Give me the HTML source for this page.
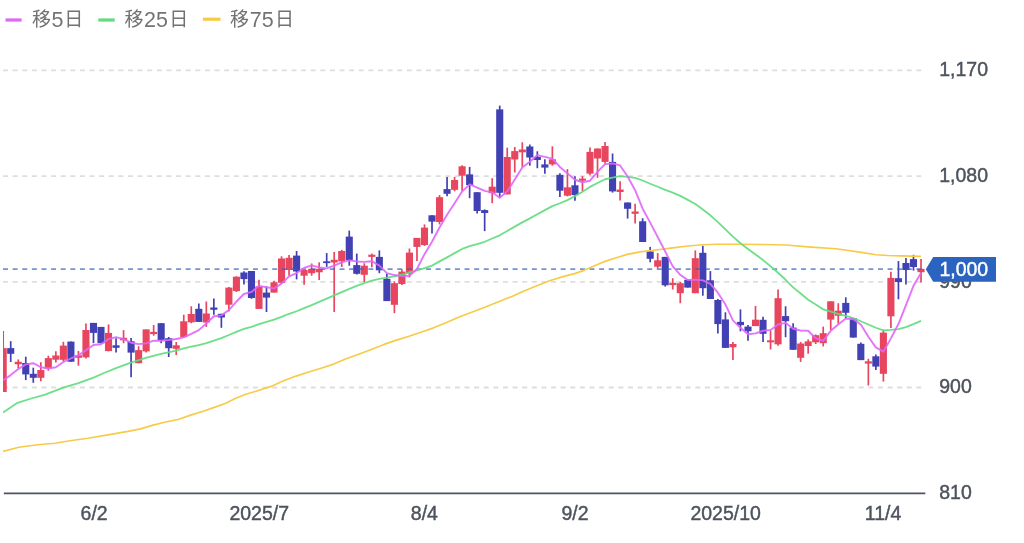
<!DOCTYPE html>
<html lang="ja">
<head>
<meta charset="utf-8">
<title>チャート</title>
<style>
html,body{margin:0;padding:0;background:#fff;}
body{width:1024px;height:543px;overflow:hidden;position:relative;font-family:"Liberation Sans","Noto Sans CJK JP",sans-serif;}
svg{position:absolute;left:0;top:0;display:block;}
text{font-family:"Liberation Sans","Noto Sans CJK JP",sans-serif;}
.ax{font-size:21px;fill:#4d535d;stroke:#4d535d;stroke-width:0.45;}
.lg{font-size:19px;fill:#737373;}
.grid{stroke:#dedede;stroke-width:1.8;stroke-dasharray:5 4.615;fill:none;}
.ma{fill:none;stroke-linejoin:round;stroke-linecap:butt;}
</style>
</head>
<body>
<svg width="1024" height="543" viewBox="0 0 1024 543">
<defs><clipPath id="plot"><rect x="3" y="40" width="925" height="460"/></clipPath></defs>

<g>
<line x1="5.5" y1="20" x2="21.6" y2="20" stroke="#df66fb" stroke-width="3.2"/>
<text class="lg" x="31.9" y="26.1">移<tspan x="51.5" y="26.8" font-size="21.5">5</tspan><tspan x="64.15" y="26.1">日</tspan></text>
<line x1="98.3" y1="20" x2="114.7" y2="20" stroke="#62dc7e" stroke-width="3.2"/>
<text class="lg" x="124.6" y="26.1">移<tspan x="144" y="26.8" font-size="21.5">25</tspan><tspan x="169.35" y="26.1">日</tspan></text>
<line x1="202.9" y1="19.2" x2="220.6" y2="19.2" stroke="#f7cb47" stroke-width="3.2"/>
<text class="lg" x="229.9" y="26.1">移<tspan x="249.7" y="26.8" font-size="21.5">75</tspan><tspan x="274.9" y="26.1">日</tspan></text>
</g>
<g>
<line class="grid" x1="3" y1="70.4" x2="921.3" y2="70.4"/>
<line class="grid" x1="3" y1="176.1" x2="921.3" y2="176.1"/>
<line class="grid" x1="3" y1="281.9" x2="921.3" y2="281.9"/>
<line class="grid" x1="3" y1="387.5" x2="921.3" y2="387.5"/>
</g>
<g>
<text class="ax" transform="translate(939.2,76.2) scale(0.929,1)">1,170</text>
<text class="ax" transform="translate(939.2,181.9) scale(0.929,1)">1,080</text>
<text class="ax" transform="translate(939.2,287.7) scale(0.929,1)">990</text>
<text class="ax" transform="translate(939.2,393.3) scale(0.929,1)">900</text>
<text class="ax" transform="translate(939.2,499) scale(0.929,1)">810</text>
</g>
<g clip-path="url(#plot)">
<line x1="3.2" y1="331" x2="3.2" y2="392" stroke="#e8465f" stroke-width="1.7"/>
<rect x="-0.35" y="348.1" width="7.1" height="43.9" fill="#e8465f"/>
<line x1="10.72" y1="341.2" x2="10.72" y2="362" stroke="#4141b3" stroke-width="1.7"/>
<rect x="7.17" y="348.1" width="7.1" height="5.7" fill="#4141b3"/>
<line x1="18.25" y1="359.4" x2="18.25" y2="368.2" stroke="#e8465f" stroke-width="1.7"/>
<rect x="14.7" y="361.8" width="7.1" height="2.5" fill="#e8465f"/>
<line x1="25.77" y1="356.7" x2="25.77" y2="380.1" stroke="#4141b3" stroke-width="1.7"/>
<rect x="22.22" y="363" width="7.1" height="11.4" fill="#4141b3"/>
<line x1="33.29" y1="367.7" x2="33.29" y2="382.8" stroke="#4141b3" stroke-width="1.7"/>
<rect x="29.74" y="373.8" width="7.1" height="4" fill="#4141b3"/>
<line x1="40.81" y1="362.2" x2="40.81" y2="381.3" stroke="#e8465f" stroke-width="1.7"/>
<rect x="37.27" y="370" width="7.1" height="7.8" fill="#e8465f"/>
<line x1="48.34" y1="355.7" x2="48.34" y2="370.7" stroke="#e8465f" stroke-width="1.7"/>
<rect x="44.79" y="358.1" width="7.1" height="10.1" fill="#e8465f"/>
<line x1="55.86" y1="351.2" x2="55.86" y2="362.5" stroke="#e8465f" stroke-width="1.7"/>
<rect x="52.31" y="355.5" width="7.1" height="4.2" fill="#e8465f"/>
<line x1="63.38" y1="341.8" x2="63.38" y2="361.3" stroke="#e8465f" stroke-width="1.7"/>
<rect x="59.83" y="345.6" width="7.1" height="14.2" fill="#e8465f"/>
<line x1="70.91" y1="341.6" x2="70.91" y2="361.7" stroke="#4141b3" stroke-width="1.7"/>
<rect x="67.36" y="341.6" width="7.1" height="20.1" fill="#4141b3"/>
<line x1="78.43" y1="351" x2="78.43" y2="365.7" stroke="#e8465f" stroke-width="1.7"/>
<rect x="74.88" y="355.3" width="7.1" height="2.5" fill="#e8465f"/>
<line x1="85.95" y1="323.4" x2="85.95" y2="358.6" stroke="#e8465f" stroke-width="1.7"/>
<rect x="82.4" y="330" width="7.1" height="27.3" fill="#e8465f"/>
<line x1="93.48" y1="322.9" x2="93.48" y2="343.2" stroke="#4141b3" stroke-width="1.7"/>
<rect x="89.93" y="322.9" width="7.1" height="10" fill="#4141b3"/>
<line x1="101" y1="326.9" x2="101" y2="343.2" stroke="#4141b3" stroke-width="1.7"/>
<rect x="97.45" y="326.9" width="7.1" height="16.3" fill="#4141b3"/>
<line x1="108.52" y1="324.4" x2="108.52" y2="351.3" stroke="#e8465f" stroke-width="1.7"/>
<rect x="104.97" y="332.9" width="7.1" height="18.2" fill="#e8465f"/>
<line x1="116.05" y1="338.2" x2="116.05" y2="352.6" stroke="#4141b3" stroke-width="1.7"/>
<rect x="112.5" y="345.3" width="7.1" height="2.5" fill="#4141b3"/>
<line x1="123.57" y1="330.2" x2="123.57" y2="343.2" stroke="#e8465f" stroke-width="1.7"/>
<rect x="120.02" y="337.8" width="7.1" height="2.5" fill="#e8465f"/>
<line x1="131.09" y1="338" x2="131.09" y2="377.3" stroke="#4141b3" stroke-width="1.7"/>
<rect x="127.54" y="341.3" width="7.1" height="11.3" fill="#4141b3"/>
<line x1="138.61" y1="346.3" x2="138.61" y2="363.2" stroke="#e8465f" stroke-width="1.7"/>
<rect x="135.06" y="350.1" width="7.1" height="13.1" fill="#e8465f"/>
<line x1="146.14" y1="329.4" x2="146.14" y2="352.6" stroke="#e8465f" stroke-width="1.7"/>
<rect x="142.59" y="329.4" width="7.1" height="22" fill="#e8465f"/>
<line x1="153.66" y1="325" x2="153.66" y2="335.7" stroke="#e8465f" stroke-width="1.7"/>
<rect x="150.11" y="331.9" width="7.1" height="2.2" fill="#e8465f"/>
<line x1="161.18" y1="323.2" x2="161.18" y2="343.2" stroke="#4141b3" stroke-width="1.7"/>
<rect x="157.63" y="323.2" width="7.1" height="16.9" fill="#4141b3"/>
<line x1="168.71" y1="337" x2="168.71" y2="357" stroke="#4141b3" stroke-width="1.7"/>
<rect x="165.16" y="338.2" width="7.1" height="10" fill="#4141b3"/>
<line x1="176.23" y1="342" x2="176.23" y2="355.1" stroke="#e8465f" stroke-width="1.7"/>
<rect x="172.68" y="345.3" width="7.1" height="3.5" fill="#e8465f"/>
<line x1="183.75" y1="314.7" x2="183.75" y2="337.6" stroke="#e8465f" stroke-width="1.7"/>
<rect x="180.2" y="321.3" width="7.1" height="15.7" fill="#e8465f"/>
<line x1="191.27" y1="306.3" x2="191.27" y2="323.2" stroke="#e8465f" stroke-width="1.7"/>
<rect x="187.72" y="314" width="7.1" height="8.3" fill="#e8465f"/>
<line x1="198.8" y1="303.5" x2="198.8" y2="321.9" stroke="#4141b3" stroke-width="1.7"/>
<rect x="195.25" y="308.8" width="7.1" height="13.1" fill="#4141b3"/>
<line x1="206.32" y1="301.5" x2="206.32" y2="326.9" stroke="#e8465f" stroke-width="1.7"/>
<rect x="202.77" y="313.5" width="7.1" height="9" fill="#e8465f"/>
<line x1="213.84" y1="298.5" x2="213.84" y2="314.8" stroke="#4141b3" stroke-width="1.7"/>
<rect x="210.29" y="307.5" width="7.1" height="2.3" fill="#4141b3"/>
<line x1="221.37" y1="313.8" x2="221.37" y2="327.8" stroke="#4141b3" stroke-width="1.7"/>
<rect x="217.82" y="313.8" width="7.1" height="3.7" fill="#4141b3"/>
<line x1="228.89" y1="287" x2="228.89" y2="311.4" stroke="#e8465f" stroke-width="1.7"/>
<rect x="225.34" y="287.6" width="7.1" height="17.1" fill="#e8465f"/>
<line x1="236.41" y1="276.3" x2="236.41" y2="292" stroke="#e8465f" stroke-width="1.7"/>
<rect x="232.86" y="276.7" width="7.1" height="14.4" fill="#e8465f"/>
<line x1="243.94" y1="271.3" x2="243.94" y2="284.4" stroke="#4141b3" stroke-width="1.7"/>
<rect x="240.39" y="272.5" width="7.1" height="6.6" fill="#4141b3"/>
<line x1="251.46" y1="271" x2="251.46" y2="298.8" stroke="#4141b3" stroke-width="1.7"/>
<rect x="247.91" y="271" width="7.1" height="27" fill="#4141b3"/>
<line x1="258.98" y1="279.7" x2="258.98" y2="308.9" stroke="#e8465f" stroke-width="1.7"/>
<rect x="255.43" y="286.3" width="7.1" height="22.6" fill="#e8465f"/>
<line x1="266.5" y1="286.3" x2="266.5" y2="312" stroke="#4141b3" stroke-width="1.7"/>
<rect x="262.95" y="292.6" width="7.1" height="5" fill="#4141b3"/>
<line x1="274.03" y1="280.7" x2="274.03" y2="292.6" stroke="#e8465f" stroke-width="1.7"/>
<rect x="270.48" y="282.3" width="7.1" height="10.3" fill="#e8465f"/>
<line x1="281.55" y1="256.3" x2="281.55" y2="283.8" stroke="#e8465f" stroke-width="1.7"/>
<rect x="278" y="258.5" width="7.1" height="24.3" fill="#e8465f"/>
<line x1="289.07" y1="255" x2="289.07" y2="275.7" stroke="#e8465f" stroke-width="1.7"/>
<rect x="285.52" y="257.8" width="7.1" height="12.2" fill="#e8465f"/>
<line x1="296.6" y1="251" x2="296.6" y2="279.4" stroke="#4141b3" stroke-width="1.7"/>
<rect x="293.05" y="255.6" width="7.1" height="15.9" fill="#4141b3"/>
<line x1="304.12" y1="270" x2="304.12" y2="284.8" stroke="#e8465f" stroke-width="1.7"/>
<rect x="300.57" y="270" width="7.1" height="5.7" fill="#e8465f"/>
<line x1="311.64" y1="263.5" x2="311.64" y2="275.7" stroke="#e8465f" stroke-width="1.7"/>
<rect x="308.09" y="268.8" width="7.1" height="4.4" fill="#e8465f"/>
<line x1="319.17" y1="262.3" x2="319.17" y2="280" stroke="#e8465f" stroke-width="1.7"/>
<rect x="315.62" y="268.8" width="7.1" height="3.5" fill="#e8465f"/>
<line x1="326.69" y1="253.1" x2="326.69" y2="266.9" stroke="#4141b3" stroke-width="1.7"/>
<rect x="323.14" y="261.3" width="7.1" height="1.8" fill="#4141b3"/>
<line x1="334.21" y1="251.9" x2="334.21" y2="312" stroke="#e8465f" stroke-width="1.7"/>
<rect x="330.66" y="259.8" width="7.1" height="2.7" fill="#e8465f"/>
<line x1="341.73" y1="249.8" x2="341.73" y2="267" stroke="#e8465f" stroke-width="1.7"/>
<rect x="338.18" y="251" width="7.1" height="10.3" fill="#e8465f"/>
<line x1="349.26" y1="230.6" x2="349.26" y2="265.7" stroke="#4141b3" stroke-width="1.7"/>
<rect x="345.71" y="236.6" width="7.1" height="23.5" fill="#4141b3"/>
<line x1="356.78" y1="253.6" x2="356.78" y2="274.5" stroke="#4141b3" stroke-width="1.7"/>
<rect x="353.23" y="265.1" width="7.1" height="8.7" fill="#4141b3"/>
<line x1="364.3" y1="263.2" x2="364.3" y2="282" stroke="#e8465f" stroke-width="1.7"/>
<rect x="360.75" y="265.7" width="7.1" height="9.1" fill="#e8465f"/>
<line x1="371.83" y1="253.6" x2="371.83" y2="267.3" stroke="#e8465f" stroke-width="1.7"/>
<rect x="368.28" y="254.7" width="7.1" height="2.2" fill="#e8465f"/>
<line x1="379.35" y1="250.4" x2="379.35" y2="273.2" stroke="#4141b3" stroke-width="1.7"/>
<rect x="375.8" y="256.9" width="7.1" height="13.4" fill="#4141b3"/>
<line x1="386.87" y1="273.8" x2="386.87" y2="301.1" stroke="#4141b3" stroke-width="1.7"/>
<rect x="383.32" y="278.8" width="7.1" height="22.3" fill="#4141b3"/>
<line x1="394.4" y1="281.3" x2="394.4" y2="313.2" stroke="#e8465f" stroke-width="1.7"/>
<rect x="390.85" y="283.2" width="7.1" height="21.6" fill="#e8465f"/>
<line x1="401.92" y1="269.4" x2="401.92" y2="284.9" stroke="#e8465f" stroke-width="1.7"/>
<rect x="398.37" y="271.6" width="7.1" height="12.4" fill="#e8465f"/>
<line x1="409.44" y1="248.5" x2="409.44" y2="277.5" stroke="#e8465f" stroke-width="1.7"/>
<rect x="405.89" y="252.6" width="7.1" height="20.9" fill="#e8465f"/>
<line x1="416.96" y1="237.9" x2="416.96" y2="261.1" stroke="#e8465f" stroke-width="1.7"/>
<rect x="413.41" y="237.9" width="7.1" height="9" fill="#e8465f"/>
<line x1="424.49" y1="224.4" x2="424.49" y2="246" stroke="#e8465f" stroke-width="1.7"/>
<rect x="420.94" y="227.6" width="7.1" height="17.4" fill="#e8465f"/>
<line x1="432.01" y1="215.3" x2="432.01" y2="233.5" stroke="#4141b3" stroke-width="1.7"/>
<rect x="428.46" y="215.3" width="7.1" height="6.3" fill="#4141b3"/>
<line x1="439.53" y1="195.1" x2="439.53" y2="224.4" stroke="#e8465f" stroke-width="1.7"/>
<rect x="435.98" y="197.2" width="7.1" height="24.8" fill="#e8465f"/>
<line x1="447.06" y1="176.9" x2="447.06" y2="196.3" stroke="#4141b3" stroke-width="1.7"/>
<rect x="443.51" y="189.1" width="7.1" height="4.7" fill="#4141b3"/>
<line x1="454.58" y1="176.9" x2="454.58" y2="191.3" stroke="#e8465f" stroke-width="1.7"/>
<rect x="451.03" y="180" width="7.1" height="9.8" fill="#e8465f"/>
<line x1="462.1" y1="165.3" x2="462.1" y2="190.7" stroke="#e8465f" stroke-width="1.7"/>
<rect x="458.55" y="166.3" width="7.1" height="9.4" fill="#e8465f"/>
<line x1="469.63" y1="166.9" x2="469.63" y2="198.2" stroke="#4141b3" stroke-width="1.7"/>
<rect x="466.08" y="174.4" width="7.1" height="10.6" fill="#4141b3"/>
<line x1="477.15" y1="192.2" x2="477.15" y2="213.4" stroke="#4141b3" stroke-width="1.7"/>
<rect x="473.6" y="192.2" width="7.1" height="18.8" fill="#4141b3"/>
<line x1="484.67" y1="209.4" x2="484.67" y2="231.1" stroke="#4141b3" stroke-width="1.7"/>
<rect x="481.12" y="210.1" width="7.1" height="2.9" fill="#4141b3"/>
<line x1="492.19" y1="178.2" x2="492.19" y2="203.2" stroke="#e8465f" stroke-width="1.7"/>
<rect x="488.64" y="186.7" width="7.1" height="6.5" fill="#e8465f"/>
<line x1="499.72" y1="105.6" x2="499.72" y2="197.6" stroke="#4141b3" stroke-width="1.7"/>
<rect x="496.17" y="109.4" width="7.1" height="83.4" fill="#4141b3"/>
<line x1="507.24" y1="147.6" x2="507.24" y2="194.4" stroke="#e8465f" stroke-width="1.7"/>
<rect x="503.69" y="157" width="7.1" height="37.4" fill="#e8465f"/>
<line x1="514.76" y1="147" x2="514.76" y2="172.5" stroke="#e8465f" stroke-width="1.7"/>
<rect x="511.21" y="151.1" width="7.1" height="8.4" fill="#e8465f"/>
<line x1="522.29" y1="142.3" x2="522.29" y2="166.9" stroke="#e8465f" stroke-width="1.7"/>
<rect x="518.74" y="149.5" width="7.1" height="2.8" fill="#e8465f"/>
<line x1="529.81" y1="144.5" x2="529.81" y2="165.7" stroke="#4141b3" stroke-width="1.7"/>
<rect x="526.26" y="146.5" width="7.1" height="11" fill="#4141b3"/>
<line x1="537.33" y1="151.3" x2="537.33" y2="168.2" stroke="#4141b3" stroke-width="1.7"/>
<rect x="533.78" y="156.9" width="7.1" height="3.1" fill="#4141b3"/>
<line x1="544.86" y1="159.3" x2="544.86" y2="173.8" stroke="#4141b3" stroke-width="1.7"/>
<rect x="541.31" y="164.4" width="7.1" height="3.2" fill="#4141b3"/>
<line x1="552.38" y1="146.3" x2="552.38" y2="165.7" stroke="#e8465f" stroke-width="1.7"/>
<rect x="548.83" y="159.3" width="7.1" height="5.1" fill="#e8465f"/>
<line x1="559.9" y1="173.2" x2="559.9" y2="197" stroke="#4141b3" stroke-width="1.7"/>
<rect x="556.35" y="174.8" width="7.1" height="15.9" fill="#4141b3"/>
<line x1="567.43" y1="169.1" x2="567.43" y2="196.4" stroke="#e8465f" stroke-width="1.7"/>
<rect x="563.88" y="187.3" width="7.1" height="8.4" fill="#e8465f"/>
<line x1="574.95" y1="176.3" x2="574.95" y2="200.7" stroke="#4141b3" stroke-width="1.7"/>
<rect x="571.4" y="185.3" width="7.1" height="9.8" fill="#4141b3"/>
<line x1="582.47" y1="176.1" x2="582.47" y2="191.1" stroke="#e8465f" stroke-width="1.7"/>
<rect x="578.92" y="178.6" width="7.1" height="2.1" fill="#e8465f"/>
<line x1="589.99" y1="147.5" x2="589.99" y2="175.3" stroke="#e8465f" stroke-width="1.7"/>
<rect x="586.44" y="151.9" width="7.1" height="21.7" fill="#e8465f"/>
<line x1="597.52" y1="148.5" x2="597.52" y2="177.8" stroke="#e8465f" stroke-width="1.7"/>
<rect x="593.97" y="148.5" width="7.1" height="10" fill="#e8465f"/>
<line x1="605.04" y1="141.9" x2="605.04" y2="163.8" stroke="#e8465f" stroke-width="1.7"/>
<rect x="601.49" y="146" width="7.1" height="15.9" fill="#e8465f"/>
<line x1="612.56" y1="153.5" x2="612.56" y2="192.6" stroke="#4141b3" stroke-width="1.7"/>
<rect x="609.01" y="161.9" width="7.1" height="29.5" fill="#4141b3"/>
<line x1="620.09" y1="181.3" x2="620.09" y2="200.6" stroke="#e8465f" stroke-width="1.7"/>
<rect x="616.54" y="189.5" width="7.1" height="2.5" fill="#e8465f"/>
<line x1="627.61" y1="202.5" x2="627.61" y2="218.6" stroke="#4141b3" stroke-width="1.7"/>
<rect x="624.06" y="202.5" width="7.1" height="6.3" fill="#4141b3"/>
<line x1="635.13" y1="203.8" x2="635.13" y2="223.6" stroke="#e8465f" stroke-width="1.7"/>
<rect x="631.58" y="211.5" width="7.1" height="2.3" fill="#e8465f"/>
<line x1="642.65" y1="218.2" x2="642.65" y2="242" stroke="#4141b3" stroke-width="1.7"/>
<rect x="639.11" y="221.3" width="7.1" height="20.7" fill="#4141b3"/>
<line x1="650.18" y1="246.9" x2="650.18" y2="262.3" stroke="#4141b3" stroke-width="1.7"/>
<rect x="646.63" y="251.5" width="7.1" height="7.3" fill="#4141b3"/>
<line x1="657.7" y1="253.1" x2="657.7" y2="268.6" stroke="#e8465f" stroke-width="1.7"/>
<rect x="654.15" y="260.3" width="7.1" height="6.4" fill="#e8465f"/>
<line x1="665.22" y1="256.9" x2="665.22" y2="286.6" stroke="#4141b3" stroke-width="1.7"/>
<rect x="661.67" y="256.9" width="7.1" height="28.4" fill="#4141b3"/>
<line x1="672.75" y1="278.2" x2="672.75" y2="289.5" stroke="#e8465f" stroke-width="1.7"/>
<rect x="669.2" y="282.8" width="7.1" height="2.3" fill="#e8465f"/>
<line x1="680.27" y1="282" x2="680.27" y2="303.2" stroke="#e8465f" stroke-width="1.7"/>
<rect x="676.72" y="283.2" width="7.1" height="10" fill="#e8465f"/>
<line x1="687.79" y1="279.8" x2="687.79" y2="287.6" stroke="#4141b3" stroke-width="1.7"/>
<rect x="684.24" y="279.8" width="7.1" height="7.8" fill="#4141b3"/>
<line x1="695.32" y1="250.4" x2="695.32" y2="293.2" stroke="#e8465f" stroke-width="1.7"/>
<rect x="691.77" y="258.2" width="7.1" height="35" fill="#e8465f"/>
<line x1="702.84" y1="245.8" x2="702.84" y2="295.7" stroke="#4141b3" stroke-width="1.7"/>
<rect x="699.29" y="252.8" width="7.1" height="35.4" fill="#4141b3"/>
<line x1="710.36" y1="271.1" x2="710.36" y2="299" stroke="#4141b3" stroke-width="1.7"/>
<rect x="706.81" y="280.3" width="7.1" height="18.7" fill="#4141b3"/>
<line x1="717.88" y1="299" x2="717.88" y2="333.6" stroke="#4141b3" stroke-width="1.7"/>
<rect x="714.34" y="300" width="7.1" height="24.1" fill="#4141b3"/>
<line x1="725.41" y1="312.3" x2="725.41" y2="347.9" stroke="#4141b3" stroke-width="1.7"/>
<rect x="721.86" y="319.4" width="7.1" height="28.5" fill="#4141b3"/>
<line x1="732.93" y1="341.9" x2="732.93" y2="360.1" stroke="#e8465f" stroke-width="1.7"/>
<rect x="729.38" y="344" width="7.1" height="3.3" fill="#e8465f"/>
<line x1="740.45" y1="309.4" x2="740.45" y2="331.3" stroke="#4141b3" stroke-width="1.7"/>
<rect x="736.9" y="321.9" width="7.1" height="3.2" fill="#4141b3"/>
<line x1="747.98" y1="325.1" x2="747.98" y2="340.7" stroke="#4141b3" stroke-width="1.7"/>
<rect x="744.43" y="326.6" width="7.1" height="4.7" fill="#4141b3"/>
<line x1="755.5" y1="306" x2="755.5" y2="326.1" stroke="#e8465f" stroke-width="1.7"/>
<rect x="751.95" y="319.7" width="7.1" height="6.4" fill="#e8465f"/>
<line x1="763.02" y1="316.7" x2="763.02" y2="342" stroke="#4141b3" stroke-width="1.7"/>
<rect x="759.47" y="319.8" width="7.1" height="14" fill="#4141b3"/>
<line x1="770.55" y1="330.3" x2="770.55" y2="349.5" stroke="#e8465f" stroke-width="1.7"/>
<rect x="767" y="340.3" width="7.1" height="2" fill="#e8465f"/>
<line x1="778.07" y1="289.4" x2="778.07" y2="345.7" stroke="#e8465f" stroke-width="1.7"/>
<rect x="774.52" y="298.2" width="7.1" height="46.1" fill="#e8465f"/>
<line x1="785.59" y1="306.3" x2="785.59" y2="337.2" stroke="#4141b3" stroke-width="1.7"/>
<rect x="782.04" y="316.1" width="7.1" height="5.1" fill="#4141b3"/>
<line x1="793.12" y1="323.2" x2="793.12" y2="349.8" stroke="#4141b3" stroke-width="1.7"/>
<rect x="789.57" y="327.6" width="7.1" height="22.2" fill="#4141b3"/>
<line x1="800.64" y1="341.9" x2="800.64" y2="361.9" stroke="#e8465f" stroke-width="1.7"/>
<rect x="797.09" y="343.5" width="7.1" height="14.3" fill="#e8465f"/>
<line x1="808.16" y1="339.4" x2="808.16" y2="353.7" stroke="#e8465f" stroke-width="1.7"/>
<rect x="804.61" y="341.4" width="7.1" height="4.6" fill="#e8465f"/>
<line x1="815.68" y1="334.5" x2="815.68" y2="344.1" stroke="#e8465f" stroke-width="1.7"/>
<rect x="812.13" y="335.2" width="7.1" height="7.1" fill="#e8465f"/>
<line x1="823.21" y1="326.6" x2="823.21" y2="346.4" stroke="#e8465f" stroke-width="1.7"/>
<rect x="819.66" y="333.2" width="7.1" height="10" fill="#e8465f"/>
<line x1="830.73" y1="301.3" x2="830.73" y2="330.1" stroke="#e8465f" stroke-width="1.7"/>
<rect x="827.18" y="301.3" width="7.1" height="18.3" fill="#e8465f"/>
<line x1="838.25" y1="303.2" x2="838.25" y2="323.8" stroke="#e8465f" stroke-width="1.7"/>
<rect x="834.7" y="310.7" width="7.1" height="5" fill="#e8465f"/>
<line x1="845.78" y1="297.3" x2="845.78" y2="318.2" stroke="#4141b3" stroke-width="1.7"/>
<rect x="842.23" y="302.9" width="7.1" height="9.9" fill="#4141b3"/>
<line x1="853.3" y1="318.2" x2="853.3" y2="337.6" stroke="#4141b3" stroke-width="1.7"/>
<rect x="849.75" y="318.2" width="7.1" height="19.4" fill="#4141b3"/>
<line x1="860.82" y1="342.5" x2="860.82" y2="360.1" stroke="#4141b3" stroke-width="1.7"/>
<rect x="857.27" y="343.8" width="7.1" height="16.3" fill="#4141b3"/>
<line x1="868.35" y1="358.8" x2="868.35" y2="385.5" stroke="#e8465f" stroke-width="1.7"/>
<rect x="864.8" y="361.3" width="7.1" height="2.3" fill="#e8465f"/>
<line x1="875.87" y1="354.4" x2="875.87" y2="370.1" stroke="#4141b3" stroke-width="1.7"/>
<rect x="872.32" y="356.3" width="7.1" height="10.3" fill="#4141b3"/>
<line x1="883.39" y1="329.8" x2="883.39" y2="381.6" stroke="#e8465f" stroke-width="1.7"/>
<rect x="879.84" y="332.6" width="7.1" height="41.2" fill="#e8465f"/>
<line x1="890.91" y1="271.7" x2="890.91" y2="328.1" stroke="#e8465f" stroke-width="1.7"/>
<rect x="887.36" y="277.9" width="7.1" height="38.4" fill="#e8465f"/>
<line x1="898.44" y1="261.1" x2="898.44" y2="299.3" stroke="#4141b3" stroke-width="1.7"/>
<rect x="894.89" y="278.2" width="7.1" height="3.8" fill="#4141b3"/>
<line x1="905.96" y1="257.9" x2="905.96" y2="284.4" stroke="#4141b3" stroke-width="1.7"/>
<rect x="902.41" y="263" width="7.1" height="7" fill="#4141b3"/>
<line x1="913.48" y1="254.8" x2="913.48" y2="270.6" stroke="#4141b3" stroke-width="1.7"/>
<rect x="909.93" y="259.1" width="7.1" height="7.9" fill="#4141b3"/>
<line x1="921.01" y1="259.1" x2="921.01" y2="282.5" stroke="#e8465f" stroke-width="1.7"/>
<rect x="917.46" y="268.8" width="7.1" height="3.4" fill="#e8465f"/>
</g>
<line x1="3" y1="269.05" x2="921.3" y2="269.05" stroke="#2b63c1" stroke-opacity="0.68" stroke-width="1.8" stroke-dasharray="5 4.615"/>
<g clip-path="url(#plot)">
<polyline class="ma" stroke="#f7cb47" stroke-width="1.65" points="3,451.4 18.8,447.3 37.6,444.8 55.1,443.2 70.1,440.7 87.7,438.2 106.5,435.1 128,431.4 140.5,428.9 153,425.1 165.6,422 178.1,419.5 190.6,415.1 203.1,411.3 215.7,406.9 225.7,403.2 235.7,398.2 245.7,394.2 256,391.2 271,386.4 283.6,380.7 296.1,376.1 308.6,372 321.1,368.2 333.7,364.1 346.2,358.8 358.7,354.2 371.2,349.4 384,344.4 396.5,340.1 409,336.3 421.6,332 434.1,327.6 446.6,322.6 459.1,316.9 471.7,312.3 484.2,307.5 496.7,302.5 512,296.4 524.5,290.7 537,285.7 549.6,280.7 562.1,276.9 574.6,273.6 584.6,270.1 593.4,266.3 603.4,261.9 614.7,258.2 627.2,254.4 640,251.9 657.7,249.8 672.7,247.9 687.8,246 702.9,244.8 718,244.2 736,244.3 761,244.5 786.1,245 811.2,247.1 836.2,248.8 861.3,252.4 875.9,254.7 887.8,255.5 899.6,255.9 911.5,256.1 921,256.2"/>
<polyline class="ma" stroke="#62dc7e" stroke-opacity="0.92" stroke-width="1.8" points="3,412.6 9.4,408.2 17.5,402.8 31.3,398.5 45.1,394.6 63.2,387.6 78.4,383.2 93.5,377.6 104,373 116,368.2 131,362.6 146.5,357.6 161.2,353.8 176.2,350.6 183.75,348.41 191.27,346.73 198.8,345.09 206.32,343.12 213.84,340.58 221.37,338.11 228.89,334.96 236.41,331.82 243.94,328.96 251.46,326.84 258.98,324.17 266.5,321.78 274.03,319.59 281.55,316.82 289.07,313.79 296.6,311.23 304.12,308.11 311.64,305.16 319.17,301.9 326.69,298.58 334.21,295.44 341.73,292.06 349.26,288.94 356.78,285.94 364.3,283.09 371.83,280.51 379.35,278.86 386.87,277.67 394.4,276.29 401.92,274.75 409.44,272.35 416.96,270.26 424.49,268.03 432.01,265.62 439.53,261.41 447.06,257.37 454.58,253.15 462.1,248.96 469.63,246.19 477.15,244.15 484.67,241.78 492.19,238.49 499.72,235.34 507.24,230.99 514.76,226.65 522.29,222.37 529.81,218.38 537.33,214.25 544.86,210.16 552.38,206.17 559.9,203.25 567.43,200.08 574.95,196.12 582.47,191.68 589.99,186.92 597.52,182.96 605.04,179.25 612.56,177.68 620.09,176.19 627.61,176.94 635.13,177.83 642.65,180.49 650.18,183.76 657.7,186.74 665.22,189.84 672.75,192.62 680.27,195.92 687.79,199.87 695.32,203.96 702.84,209.51 710.36,215.31 717.88,222.08 725.41,229.28 732.93,236.64 740.45,243.22 747.98,248.92 755.5,254.46 763.02,260.07 770.55,266.29 778.07,272.76 785.59,279.77 793.12,287.4 800.64,293.55 808.16,299.7 815.68,304.59 823.21,309.38 830.73,311.67 838.25,313.8 845.78,315.95 853.3,318.1 860.82,321.29 868.35,324.49 875.87,327.75 883.39,330.28 890.91,329.97 898.44,329.06 905.96,327.15 913.48,324.18 921.01,320.93"/>
<polyline class="ma" stroke="#df66fb" stroke-opacity="0.9" stroke-width="1.9" points="3.2,380.3 10.72,375.1 18.25,369.1 25.77,364.4 33.29,363.19 40.81,367.23 48.34,368.51 55.86,367.23 63.38,361.95 70.91,358.49 78.43,355.47 85.95,350.11 93.48,345.05 101,344.21 108.52,339.13 116.05,337.08 123.57,339.21 131.09,342.73 138.61,344.17 146.14,343.37 153.66,340.68 161.18,340.76 168.71,340.02 176.23,339.04 183.75,337.33 191.27,333.94 198.8,330.12 206.32,323.5 213.84,316.3 221.37,315.37 228.89,310.03 236.41,301.51 243.94,293.97 251.46,291.89 258.98,285.82 266.5,287.22 274.03,288.43 281.55,283.67 289.07,276.4 296.6,273.02 304.12,267.96 311.64,265.31 319.17,267.44 326.69,268.32 334.21,265.55 341.73,262.3 349.26,260.33 356.78,261.43 364.3,261.89 371.83,261.18 379.35,265.61 386.87,273.06 394.4,275.05 401.92,276.14 409.44,275.73 416.96,269.04 424.49,254.19 432.01,241.78 439.53,227.49 447.06,214.76 454.58,203.32 462.1,191.54 469.63,184.43 477.15,187.51 484.67,190.88 492.19,192.35 499.72,197.8 507.24,191.4 514.76,179.46 522.29,167.46 529.81,161.79 537.33,155.11 544.86,156.92 552.38,158.69 559.9,166.96 567.43,173.39 574.95,179.75 582.47,182.25 589.99,180.71 597.52,171.79 605.04,164.11 612.56,163.44 620.09,165.43 627.61,176.57 635.13,190.22 642.65,208.72 650.18,222.66 657.7,236.94 665.22,251.49 672.75,266.37 680.27,274.89 687.79,279.97 695.32,279.61 702.84,280.35 710.36,283.87 717.88,292.66 725.41,304.44 732.93,320.37 740.45,327.81 747.98,334.29 755.5,333.4 763.02,330.74 770.55,329.92 778.07,324.53 785.59,322.82 793.12,328.73 800.64,330.5 808.16,330.76 815.68,338.21 823.21,340.86 830.73,330.81 838.25,324.43 845.78,318.62 853.3,319.26 860.82,324.5 868.35,336.7 875.87,347.34 883.39,351.67 890.91,338.35 898.44,324.04 905.96,305.16 913.48,285.85 921.01,273.07"/>
</g>
<line x1="3.8" y1="493.35" x2="925.3" y2="493.35" stroke="#4f5560" stroke-width="1.6"/>
<g>
<text class="ax" transform="translate(94.1,520) scale(0.929,1)" text-anchor="middle">6/2</text>
<text class="ax" transform="translate(259.25,520) scale(0.929,1)" text-anchor="middle">2025/7</text>
<text class="ax" transform="translate(424.4,520) scale(0.929,1)" text-anchor="middle">8/4</text>
<text class="ax" transform="translate(575,520) scale(0.929,1)" text-anchor="middle">9/2</text>
<text class="ax" transform="translate(725.6,520) scale(0.929,1)" text-anchor="middle">2025/10</text>
<text class="ax" transform="translate(883.1,520) scale(0.929,1)" text-anchor="middle">11/4</text>
</g>
<polygon points="925.8,269.3 933.2,256.9 996,256.9 996,281.7 933.2,281.7" fill="#2b63c1"/>
<text transform="translate(939.4,275.8) scale(0.929,1)" font-size="21" fill="#fff" stroke="#fff" stroke-width="0.45">1,000</text>
</svg>
</body>
</html>
